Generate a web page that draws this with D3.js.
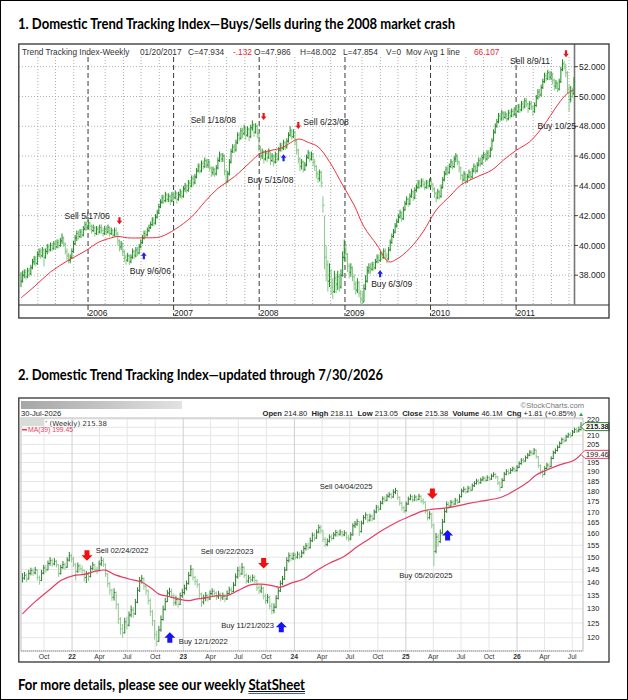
<!DOCTYPE html>
<html>
<head>
<meta charset="utf-8">
<script src="https://cdn.jsdelivr.net/npm/d3@7"></script>
<style>
  body { margin: 0; background: #fff; }
  svg { display: block; }
</style>
</head>
<body>
<div id="chart"></div>
<script>
// ---------- chart 1: 2005-2011 weekly index ----------
const topStartDate = "2005-03-21";
const topClose = [37.6,38.0,38.2,37.9,38.3,38.1,38.5,38.9,39.1,38.8,
39.4,39.6,39.3,39.7,39.2,39.6,39.9,39.7,40.0,39.8,
40.1,39.9,40.2,40.0,40.3,40.5,40.1,39.6,39.3,39.0,
39.2,39.6,40.1,40.5,40.8,40.6,40.9,40.7,41.1,41.4,
41.2,41.5,41.3,41.0,41.2,40.8,41.1,40.9,41.2,41.0,
40.8,41.1,40.9,41.2,40.8,41.0,40.7,41.0,40.8,40.3,
39.9,40.1,39.6,39.2,39.0,39.3,38.9,39.2,39.6,39.3,
39.7,39.5,39.9,40.2,40.5,40.8,40.7,41.0,41.2,41.4,
41.7,41.5,41.9,42.2,42.6,42.9,43.2,43.0,43.4,43.1,
43.3,43.0,43.4,43.2,43.5,43.1,43.4,43.6,43.3,43.8,
44.0,43.7,44.2,44.0,44.5,44.2,44.6,45.0,45.3,45.0,
45.5,45.3,45.7,45.4,45.6,45.2,44.9,45.1,44.8,45.2,
45.7,46.1,45.8,46.0,45.0,44.3,44.8,45.6,46.3,46.6,
46.4,46.9,47.4,47.2,47.7,47.5,47.9,47.4,47.8,47.3,
47.9,48.1,47.6,48.0,47.5,46.6,46.0,46.3,45.8,46.2,
45.9,46.3,45.7,46.0,45.6,46.1,45.8,46.4,46.7,46.5,
46.9,46.6,47.0,47.4,47.7,47.3,47.6,47.0,46.4,45.8,
45.3,45.6,45.1,45.4,45.9,46.2,45.8,46.1,45.6,45.3,
44.8,44.5,44.9,44.2,42.7,39.2,38.7,37.6,38.3,37.2,
36.9,37.8,37.4,37.9,37.2,38.0,39.2,39.8,39.4,38.6,
38.2,38.5,37.9,37.4,37.0,37.5,36.8,36.4,36.2,37.1,
37.6,38.3,38.5,38.4,38.7,38.5,38.9,39.2,39.0,39.4,
39.2,39.6,39.3,39.1,39.7,40.2,40.6,40.9,41.3,41.6,
41.9,42.2,41.8,42.4,42.8,43.1,42.8,43.3,43.6,43.2,
43.7,43.9,44.2,44.0,44.3,44.1,43.9,44.2,44.0,44.3,
44.1,43.8,43.5,43.2,43.6,43.3,43.9,44.4,44.8,45.1,
44.9,45.3,45.6,45.3,45.8,46.0,45.6,45.2,44.7,44.4,
44.8,44.3,44.6,44.9,44.6,45.0,45.3,45.0,45.4,45.7,
45.5,45.9,46.1,45.8,46.2,46.0,46.4,47.0,47.6,48.0,
48.3,48.7,48.5,48.9,48.6,48.8,48.5,48.9,48.7,49.0,
48.8,49.1,49.0,49.3,49.1,49.5,49.3,49.7,49.5,49.2,
49.5,49.3,49.0,49.4,49.9,50.3,50.1,50.6,51.0,51.4,
51.2,51.6,51.3,51.5,51.1,50.7,50.9,50.5,51.0,51.8,
52.2,52.0,51.6,50.5,49.8,50.4,50.2,51.0];
const topHigh = [38.2,38.3,38.4,38.4,38.5,38.5,38.7,39.1,39.3,39.3,
39.6,39.8,39.8,39.9,39.8,39.8,40.1,40.1,40.2,40.2,
40.3,40.3,40.4,40.4,40.5,40.8,40.6,40.2,39.8,39.5,
39.4,39.8,40.3,40.7,41.0,41.0,41.1,41.1,41.3,41.6,
41.6,41.7,41.6,41.4,41.4,41.3,41.3,41.3,41.4,41.4,
41.2,41.3,41.3,41.4,41.3,41.2,41.1,41.2,41.2,40.9,
40.4,40.3,40.2,39.7,39.4,39.5,39.4,39.4,39.8,39.7,
39.9,39.9,40.1,40.4,40.7,41.0,41.0,41.2,41.4,41.6,
41.9,41.9,42.1,42.4,42.8,43.1,43.4,43.4,43.6,43.5,
43.5,43.4,43.6,43.6,43.7,43.6,43.6,43.8,43.7,44.0,
44.2,44.1,44.4,44.4,44.7,44.7,44.8,45.2,45.5,45.5,
45.7,45.7,45.9,45.8,45.8,45.7,45.3,45.3,45.2,45.4,
45.9,46.3,46.2,46.2,46.1,45.1,45.0,45.8,46.5,46.8,
46.8,47.1,47.6,47.6,47.9,47.9,48.1,48.0,48.0,47.9,
48.1,48.4,48.2,48.2,48.1,47.6,46.7,46.5,46.4,46.4,
46.3,46.5,46.3,46.2,46.1,46.3,46.2,46.6,46.9,46.9,
47.1,47.0,47.2,47.6,48.0,47.8,47.8,47.7,47.1,46.5,
45.9,45.8,45.7,45.6,46.1,46.4,46.3,46.3,46.2,45.8,
45.4,45.0,45.1,45.0,43.3,42.0,40.0,39.0,38.8,38.4,
37.8,38.3,38.1,38.3,38.1,38.4,39.6,40.4,40.1,39.5,
38.8,38.8,38.6,38.1,37.6,37.8,37.6,37.0,36.9,37.4,
38.0,38.6,38.8,38.8,38.9,38.9,39.1,39.4,39.4,39.6,
39.6,39.8,39.8,39.5,39.9,40.4,40.8,41.1,41.5,41.8,
42.1,42.4,42.3,42.6,43.0,43.3,43.2,43.5,43.8,43.7,
43.9,44.1,44.4,44.4,44.5,44.5,44.3,44.4,44.4,44.5,
44.5,44.2,43.9,43.6,43.8,43.7,44.1,44.6,45.0,45.3,
45.3,45.5,45.8,45.7,46.0,46.2,46.1,45.7,45.3,44.8,
45.0,44.9,44.8,45.1,45.0,45.2,45.5,45.4,45.6,45.9,
45.9,46.1,46.3,46.2,46.4,46.4,46.6,47.2,47.8,48.2,
48.5,48.9,48.9,49.1,49.0,49.0,48.9,49.1,49.1,49.2,
49.2,49.3,49.3,49.5,49.5,49.7,49.7,49.9,49.9,49.6,
49.7,49.7,49.4,49.6,50.1,50.5,50.5,50.8,51.2,51.6,
51.6,51.8,51.7,51.7,51.6,51.2,51.1,51.0,51.2,52.0,
52.5,52.4,52.2,51.7,50.8,50.7,50.6,51.3];
const topLow = [37.2,37.5,37.8,37.7,37.8,37.9,38.0,38.4,38.7,38.6,
38.7,39.2,39.1,39.2,38.6,39.1,39.4,39.5,39.6,39.6,
39.7,39.7,39.8,39.8,39.9,40.1,39.9,39.4,39.0,38.8,
38.8,39.1,39.5,40.0,40.3,40.4,40.5,40.5,40.6,41.0,
41.0,41.1,41.0,40.8,40.9,40.6,40.7,40.7,40.8,40.8,
40.6,40.7,40.7,40.8,40.6,40.7,40.5,40.6,40.6,40.0,
39.6,39.7,39.3,38.9,38.7,38.9,38.7,38.8,39.1,39.1,
39.2,39.3,39.4,39.8,40.1,40.4,40.5,40.6,40.9,41.1,
41.3,41.3,41.4,41.8,42.1,42.5,42.8,42.8,42.9,42.9,
42.9,42.7,42.9,43.0,43.1,42.8,43.0,43.2,43.1,43.2,
43.6,43.5,43.6,43.8,43.9,44.0,44.1,44.5,44.9,44.8,
44.9,45.1,45.2,45.2,45.2,45.0,44.6,44.7,44.6,44.7,
45.1,45.6,45.6,45.6,44.7,44.0,44.2,44.7,45.5,46.2,
46.2,46.3,46.8,47.0,47.1,47.2,47.4,47.1,47.3,47.0,
47.2,47.7,47.3,47.5,47.2,46.3,45.7,45.8,45.5,45.7,
45.6,45.8,45.4,45.6,45.3,45.5,45.6,45.7,46.3,46.3,
46.4,46.4,46.5,46.9,47.3,47.1,47.2,46.7,46.1,45.5,
45.0,45.1,44.9,45.0,45.3,45.8,45.6,45.7,45.3,45.0,
44.5,44.2,44.3,43.9,42.2,38.4,37.6,36.9,37.2,36.7,
36.4,36.8,36.8,37.0,36.9,37.1,37.9,39.0,38.9,38.2,
37.8,37.9,37.6,37.0,36.7,36.8,36.5,36.1,36.0,36.2,
37.0,37.5,38.1,38.1,38.3,38.3,38.4,38.8,38.8,38.9,
39.0,39.1,39.1,38.8,39.0,39.6,40.1,40.5,40.8,41.2,
41.5,41.8,41.6,41.7,42.3,42.7,42.6,42.7,43.2,43.0,
43.1,43.6,43.8,43.8,43.9,43.9,43.7,43.8,43.8,43.9,
43.9,43.6,43.2,42.9,43.1,43.1,43.2,43.8,44.3,44.7,
44.7,44.8,45.2,45.1,45.2,45.6,45.4,44.9,44.4,44.1,
44.3,44.1,44.2,44.5,44.4,44.5,44.9,44.8,44.9,45.3,
45.3,45.4,45.8,45.6,45.7,45.8,45.9,46.4,47.0,47.5,
47.9,48.2,48.3,48.4,48.4,48.5,48.3,48.4,48.5,48.6,
48.6,48.7,48.8,48.9,48.9,49.0,49.1,49.2,49.3,48.9,
49.1,49.1,48.7,48.9,49.3,49.8,49.9,50.0,50.5,50.9,
51.0,51.1,51.1,51.1,50.8,50.4,50.5,50.3,50.4,50.9,
51.7,51.8,51.3,50.2,49.0,49.6,49.9,50.1];
const topMaWeek = [0,8,18,29,39,47,55,59,65,75,85,94,104,112,120,130,140,146,159,169,175,181,188,196,203,209,217,224,229,237,245,253,262,268,278,287,294,302,310,318,327,333,337];
const topMaValue = [36.48,37.22,38.22,39.01,39.61,40.2,40.51,40.6,40.51,40.51,40.58,41.09,41.92,42.93,43.83,44.61,45.62,46.18,46.56,47.14,46.92,46.62,45.62,44.05,42.71,41.25,40.02,38.9,39.08,39.8,40.91,42.37,43.38,44.05,44.61,45.06,45.73,46.4,46.96,47.97,49.43,50.21,50.43];
const topYears = [2006, 2007, 2008, 2009, 2010, 2011];
const topYTicks = [38, 40, 42, 44, 46, 48, 50, 52];
const topMinorDays = ["03-15", "06-01", "08-15", "11-01"];
const topSignalKind = ["sell", "buy", "sell", "buy", "sell", "buy", "sell", "none"];
const topSignalDate = ["2006-05-15", "2006-08-27", "2008-01-20", "2008-04-14", "2008-06-16", "2009-05-31", "2011-08-02", "2011-04-02"];
const topSignalValue = [41.43, 39.55, 48.42, 46.13, 47.81, 38.34, 52.63, 47.81];
const topSignalText = ["Sell 5/17/06", "Buy 9/6/06", "Sell 1/18/08", "Buy 5/15/08", "Sell 6/23/08", "Buy 6/3/09", "Sell 8/9/11", "Buy 10/25"];
const topHeader = [
  ["Trend Tracking Index-Weekly", "#333"], ["01/20/2017", "#333"], ["C=47.934", "#333"], ["-.132", "#e8262e"],
  ["O=47.986", "#333"], ["H=48.002", "#333"], ["L=47.854", "#333"], ["V=0", "#333"],
  ["Mov Avg 1 line", "#333"], ["66.107", "#e8262e"]
];

// ---------- chart 2: 2021-2026 weekly index ----------
const botStartDate = "2021-07-22";
const botClose = [141.5,142.6,141.2,143.4,144.5,143.6,144.8,141.8,140.6,143.5,
145.6,144.8,147.4,148.6,147.2,148.3,146.8,143.4,145.8,147.0,
145.9,148.8,150.6,149.3,147.0,144.2,146.4,145.2,144.6,141.8,
143.0,142.2,145.4,146.8,145.0,144.6,147.2,148.6,147.0,143.2,
139.4,136.8,134.2,136.0,131.6,126.4,123.0,121.6,125.4,124.2,
127.8,129.6,128.2,132.4,136.8,140.6,141.4,138.4,136.6,133.0,
129.0,125.8,121.0,118.8,122.6,126.2,129.8,132.6,135.8,136.4,
134.8,132.2,133.4,131.6,134.8,136.0,137.6,139.4,142.6,145.0,
141.8,140.2,139.0,135.4,132.4,133.8,134.8,133.6,135.6,136.4,
135.8,134.4,135.4,134.0,134.8,133.6,135.6,137.0,136.4,138.8,
142.0,144.6,143.2,145.8,142.6,140.4,141.6,140.8,141.8,140.6,
137.8,136.6,137.6,134.6,133.0,134.2,131.0,129.4,130.6,133.8,
136.6,139.4,141.2,144.8,148.6,150.6,149.4,150.8,150.0,151.2,
150.2,151.8,153.6,154.8,154.0,157.0,159.4,158.2,160.8,162.8,
161.4,157.6,155.4,156.8,158.6,158.0,159.6,160.6,159.8,160.8,
159.6,160.4,158.4,157.8,159.6,163.6,164.4,165.6,161.0,164.8,
167.4,168.6,166.2,168.0,166.8,170.0,172.2,171.4,174.2,176.4,
175.6,177.6,178.4,177.2,179.6,180.4,177.0,174.2,172.0,170.6,
173.8,176.2,177.4,175.8,177.2,176.0,177.6,175.4,174.6,170.4,
167.4,169.0,164.0,152.4,158.6,156.6,160.4,165.4,170.2,173.6,
172.8,174.6,173.8,175.6,174.6,177.4,180.2,181.0,179.8,181.6,
180.6,182.8,184.0,185.2,184.4,185.8,186.6,185.6,187.0,186.2,
187.8,188.6,187.4,184.2,182.0,185.6,188.8,190.2,189.4,190.8,
191.6,190.6,192.4,194.4,196.2,195.8,197.6,199.0,200.6,199.8,
201.8,198.2,193.4,190.2,188.6,191.8,193.6,192.8,197.2,200.4,
201.6,203.4,205.6,207.8,207.0,209.4,210.6,210.0,212.2,213.6,
212.8,213.57,215.38];
const botHigh = [143.5,144.0,143.4,144.8,145.7,145.4,146.0,145.2,142.6,144.8,
146.8,146.9,148.6,150.0,149.4,149.6,148.9,147.2,146.9,148.4,
147.8,150.0,152.2,151.4,150.2,147.6,147.8,147.2,146.6,145.0,
144.4,144.0,146.6,148.0,147.2,146.2,148.6,150.2,149.6,147.4,
143.6,140.0,137.4,137.6,136.4,132.0,127.0,124.6,126.8,127.2,
129.0,131.2,130.6,133.6,138.0,142.0,142.8,141.8,139.4,137.2,
133.8,129.6,126.0,122.4,124.0,127.6,131.2,134.0,137.0,137.8,
137.4,135.6,134.8,134.2,136.0,137.4,139.0,140.6,144.0,146.8,
145.6,142.4,141.2,139.6,136.0,135.2,136.2,135.4,136.8,137.6,
137.2,136.4,136.6,136.0,136.0,135.4,136.8,138.2,138.0,140.0,
143.4,146.0,146.4,147.6,146.2,143.4,142.8,142.6,143.0,142.6,
141.0,138.8,138.8,138.2,135.6,135.4,134.8,132.2,132.0,135.0,
137.8,140.6,142.4,146.0,150.0,152.0,151.8,152.0,151.8,152.4,
152.0,153.0,154.8,156.0,156.2,158.4,160.6,160.4,162.0,164.2,
164.0,161.8,158.6,158.0,159.8,159.8,160.8,161.8,161.6,162.0,
161.4,161.6,161.0,159.6,160.8,164.8,165.8,166.8,165.8,166.0,
168.6,169.8,169.0,169.2,168.8,171.2,173.4,173.2,175.4,177.6,
177.6,178.8,179.6,179.2,181.0,181.8,180.8,177.6,174.8,173.0,
175.0,177.4,178.6,178.0,178.4,178.0,178.8,178.0,176.6,175.0,
171.2,170.4,169.6,164.6,160.4,160.0,162.0,166.8,171.6,175.0,
174.8,175.8,175.6,176.8,176.4,178.6,181.4,182.4,181.8,182.8,
182.6,184.0,185.2,186.4,186.2,187.0,187.8,187.6,188.2,187.8,
189.0,189.8,189.4,188.0,185.0,186.8,190.0,191.4,191.2,192.0,
192.8,192.4,193.6,195.6,197.4,197.6,198.8,200.2,201.8,201.8,
203.0,202.2,198.6,194.0,191.2,193.0,194.8,194.6,198.4,201.6,
202.8,204.6,206.8,209.0,209.0,210.6,211.8,212.0,213.4,214.8,
214.8,215.4,218.11];
const botLow = [139.8,140.9,140.0,141.0,142.6,142.4,143.0,140.6,139.0,140.4,
143.0,143.6,144.6,146.5,146.0,146.6,145.8,142.0,142.9,145.2,
144.8,145.6,148.2,147.8,146.0,140.6,143.6,143.8,143.0,140.2,
139.6,140.4,141.8,144.6,143.8,143.2,144.2,146.4,146.0,142.0,
138.0,135.2,132.8,133.0,129.8,124.6,121.0,120.0,121.4,122.8,
123.8,127.0,126.8,127.8,132.0,136.2,139.4,137.0,135.2,131.6,
127.4,124.0,119.4,117.2,118.6,122.0,125.8,129.4,132.4,134.6,
133.8,131.0,131.2,130.4,131.4,134.0,135.2,136.8,139.0,142.2,
140.6,138.8,137.8,134.0,130.6,131.6,132.8,132.6,133.2,134.8,
134.6,133.2,133.6,132.8,133.2,132.4,133.2,135.0,135.4,136.0,
138.4,141.4,142.0,142.8,141.6,139.4,139.6,139.8,140.2,139.6,
136.6,135.4,135.8,133.4,131.8,132.0,129.8,128.0,128.4,130.2,
133.4,136.2,138.8,140.8,144.4,147.8,148.4,148.8,149.0,149.4,
149.2,149.8,151.2,152.8,153.0,153.6,156.4,157.0,157.8,160.2,
160.2,156.4,154.2,154.6,156.2,157.0,157.6,158.8,158.8,159.2,
158.6,159.0,157.4,156.6,157.2,159.2,162.6,163.6,159.0,160.6,
164.2,166.4,165.0,165.6,165.6,166.4,169.4,170.2,171.0,173.6,
174.6,175.2,176.8,176.2,176.8,178.6,175.8,173.0,170.6,169.4,
170.2,173.4,175.6,174.6,175.2,175.0,175.6,174.2,173.6,169.2,
166.0,166.6,162.4,146.3,151.6,154.4,156.0,159.8,165.0,169.6,
171.6,172.4,172.6,173.4,173.6,174.4,177.0,179.4,178.8,179.4,
179.6,180.4,182.2,183.4,183.4,183.8,185.2,184.6,185.2,185.2,
185.8,187.2,186.4,183.0,180.2,181.8,185.2,188.2,188.4,189.0,
190.2,189.8,190.2,192.0,193.8,194.8,195.4,197.0,198.4,198.8,
199.4,197.0,192.0,188.6,187.0,188.4,191.2,191.6,192.6,196.8,
199.6,201.0,203.0,205.2,206.0,206.8,208.8,208.8,209.8,211.6,
211.6,212.0,213.05];
const botMaWeek = [0,6,14,18,24,29,35,39,43,50,56,61,64,68,73,78,82,87,92,96,101,107,112,117,121,126,132,136,140,144,151,157,163,169,176,182,188,193,198,204,210,216,223,227,232,237,241,246,252,259,262];
const botMaValue = [128.2,132.6,137.9,140.6,142.5,143.0,144.4,144.7,143.0,141.2,139.9,137.3,135.4,134.6,133.6,133.0,133.6,134.2,134.8,134.8,136.7,138.9,139.2,138.6,138.0,139.6,141.2,143.5,145.6,147.5,150.4,154.4,158.0,161.7,165.5,168.1,170.5,171.4,171.8,172.9,174.2,175.3,176.6,178.2,181.2,184.6,188.4,191.0,193.7,196.4,199.46];
const botYTicks = d3.range(120, 221, 5);
const botMonths = ["Jan", "Feb", "Mar", "Apr", "May", "Jun", "Jul", "Aug", "Sep", "Oct", "Nov", "Dec"];
const botSignalKind = ["sell", "buy", "sell", "buy", "sell", "buy"];
const botSignalDate = ["2022-02-19", "2022-11-18", "2023-09-22", "2023-11-19", "2025-03-29", "2025-05-18"];
const botSignalValue = [148.5, 121.8, 145.4, 125.4, 176.2, 161.7];
const botSignalText = ["Sell 02/24/2022", "Buy 12/1/2022", "Sell 09/22/2023", "Buy 11/21/2023", "Sell 04/04/2025", "Buy 05/20/2025"];
const botHeader = [["Open ", 1], ["214.80  ", 0], ["High ", 1], ["218.11  ", 0], ["Low ", 1], ["213.05  ", 0],
  ["Close ", 1], ["215.38  ", 0], ["Volume ", 1], ["46.1M  ", 0], ["Chg ", 1], ["+1.81 (+0.85%) ", 0]];
const lastClose = 215.38, lastMa = 199.46;

// layout (not data)
const topHeaderX = [22, 140, 188, 233, 254, 300, 343, 386, 406, 474];
const topLabelOffset = [[-55, -5], [-14, 22], [-73, 2.5], [-36, 29], [5, -4], [-9, 17], [-56, 6.7], [0, 0]];
const botLabelOffset = [[8.7, -8.2], [9, 11.7], [-63, -14.3], [-60, 6.3], [-112.7, -10.5], [-48.4, 47.5]];

const W = 628, H = 700;
const DAY = 864e5;
const parse = d3.utcParse("%Y-%m-%d");
const FONT = "'Liberation Sans', Arial, sans-serif";
const HEAD = "Lato, 'Open Sans', sans-serif";

const svg = d3.select("#chart").append("svg")
  .attr("width", W).attr("height", H)
  .style("font-family", FONT);

svg.append("rect").attr("x", 0.5).attr("y", 0.5).attr("width", W - 1).attr("height", H - 1)
  .attr("fill", "#fff").attr("stroke", "#000").attr("stroke-width", 1);

// headings
svg.append("text").attr("x", 18).attr("y", 29)
  .attr("font-family", HEAD).attr("font-weight", 700).attr("font-size", 14.5)
  .attr("textLength", 437).attr("lengthAdjust", "spacingAndGlyphs")
  .text("1. Domestic Trend Tracking Index\u2014Buys/Sells during the 2008 market crash");
svg.append("text").attr("x", 18).attr("y", 380)
  .attr("font-family", HEAD).attr("font-weight", 700).attr("font-size", 14.5)
  .attr("textLength", 365).attr("lengthAdjust", "spacingAndGlyphs")
  .text("2. Domestic Trend Tracking Index\u2014updated through 7/30/2026");

function arrow(kind, big) {
  const L = big ? 10.5 : 7, hw = big ? 5.5 : 2.8, hl = big ? 5.5 : 3.5, sw = big ? 2.5 : 1.1;
  const s = kind === "sell" ? -1 : 1;
  const pts = [[0, 0], [-hw, s * hl], [-sw, s * hl], [-sw, s * L], [sw, s * L], [sw, s * hl], [hw, s * hl]];
  return "M" + pts.map(p => p.join(",")).join("L") + "Z";
}

function drawBars(g, dates, hi, lo, cl, x, y, up, down, tick) {
  const idx = d3.range(dates.length);
  const col = i => (i === 0 || cl[i] >= cl[i - 1]) ? up : down;
  const bars = g.selectAll("g.bar").data(idx).join("g").attr("class", "bar")
    .attr("stroke", col).attr("stroke-width", 1);
  bars.append("line")
    .attr("x1", i => x(dates[i])).attr("x2", i => x(dates[i]))
    .attr("y1", i => y(hi[i])).attr("y2", i => y(lo[i]));
  bars.filter(i => i > 0).append("line")
    .attr("x1", i => x(dates[i]) - tick).attr("x2", i => x(dates[i]))
    .attr("y1", i => y(cl[i - 1])).attr("y2", i => y(cl[i - 1]));
  bars.append("line")
    .attr("x1", i => x(dates[i])).attr("x2", i => x(dates[i]) + tick)
    .attr("y1", i => y(cl[i])).attr("y2", i => y(cl[i]));
}

// ================= chart 1 =================
{
  const g = svg.append("g");
  const start = parse(topStartDate);
  const dates = topClose.map((_, i) => new Date(+start + i * 7 * DAY));
  const x = d3.scaleUtc().domain([dates[0], dates[dates.length - 1]]).range([21, 574]);
  const y = d3.scaleLinear().domain([36, 52]).range([305, 66.7]);

  // horizontal dotted grid
  g.selectAll("line.hg").data(topYTicks).join("line")
    .attr("x1", 19).attr("x2", 574).attr("y1", d => y(d)).attr("y2", d => y(d))
    .attr("stroke", "#9a9a9a").attr("stroke-width", 0.8).attr("stroke-dasharray", "1,2");
  // minor vertical dotted grid
  const minor = [];
  d3.range(2005, 2012).forEach(yr => topMinorDays.forEach(md => {
    const d = parse(yr + "-" + md);
    if (x(d) > 22 && x(d) < 573) minor.push(d);
  }));
  g.selectAll("line.vg").data(minor).join("line")
    .attr("x1", d => x(d)).attr("x2", d => x(d)).attr("y1", 57).attr("y2", 305)
    .attr("stroke", "#9a9a9a").attr("stroke-width", 0.8).attr("stroke-dasharray", "1,2");
  // year dashed lines
  const yearDates = topYears.map(yr => new Date(Date.UTC(yr, 0, 1)));
  g.selectAll("line.yr").data(yearDates).join("line")
    .attr("x1", d => x(d)).attr("x2", d => x(d)).attr("y1", 57).attr("y2", 316)
    .attr("stroke", "#222").attr("stroke-width", 0.9).attr("stroke-dasharray", "5,3");
  g.selectAll("text.yr").data(topYears).join("text")
    .attr("x", (d, i) => x(yearDates[i]) + 0.5).attr("y", 315.5)
    .attr("font-size", 8.5).attr("fill", "#222").text(d => d);

  // frame and axes
  g.append("line").attr("x1", 19).attr("x2", 609).attr("y1", 305).attr("y2", 305)
    .attr("stroke", "#333").attr("stroke-width", 1.1);
  g.append("line").attr("x1", 574.5).attr("x2", 574.5).attr("y1", 44).attr("y2", 305)
    .attr("stroke", "#777").attr("stroke-width", 1.6);
  g.selectAll("line.yt").data(topYTicks).join("line")
    .attr("x1", 574).attr("x2", 578).attr("y1", d => y(d)).attr("y2", d => y(d))
    .attr("stroke", "#333").attr("stroke-width", 0.9);
  g.selectAll("text.yl").data(topYTicks).join("text")
    .attr("x", 579).attr("y", d => y(d) + 3.2)
    .attr("font-size", 8.6).attr("fill", "#222").text(d3.format(".3f"));
  g.append("rect").attr("x", 18.8).attr("y", 44).attr("width", 590.2).attr("height", 274)
    .attr("fill", "none").attr("stroke", "#333").attr("stroke-width", 1.3);

  // header
  g.selectAll("text.hd").data(topHeader).join("text")
    .attr("x", (d, i) => topHeaderX[i]).attr("y", 55)
    .attr("font-size", 8.3).attr("fill", d => d[1]).text(d => d[0]);

  // bars
  drawBars(g.append("g"), dates, topHigh, topLow, topClose, x, y, "#1f8c22", "#86c786", 1.1);

  // moving average
  const maPts = topMaWeek.map((w, i) => [new Date(+start + w * 7 * DAY), topMaValue[i]]);
  g.append("path").datum(maPts)
    .attr("d", d3.line().x(d => x(d[0])).y(d => y(d[1])).curve(d3.curveCatmullRom))
    .attr("fill", "none").attr("stroke", "#f0303c").attr("stroke-width", 1);

  // signals
  topSignalKind.forEach((k, i) => {
    const px = x(parse(topSignalDate[i])), py = y(topSignalValue[i]);
    if (k !== "none") {
      g.append("path").attr("transform", `translate(${px},${py})`).attr("d", arrow(k, false))
        .attr("fill", k === "sell" ? "#e8141c" : "#2020f0");
    }
    g.append("text").attr("x", px + topLabelOffset[i][0]).attr("y", py + topLabelOffset[i][1])
      .attr("font-size", 8.6).attr("fill", "#222").text(topSignalText[i]);
  });
}

// ================= chart 2 =================
{
  const g = svg.append("g");
  const start = parse(botStartDate);
  const dates = botClose.map((_, i) => new Date(+start + i * 7 * DAY));
  const x = d3.scaleUtc().domain([dates[0], dates[dates.length - 1]]).range([22.4, 581]);
  const y = d3.scaleLog().domain([115.65, 220.6]).range([651, 418]);
  const L = 21, R = 583, T = 418, B = 651;

  // gradient header bar
  const grad = svg.append("defs").append("linearGradient").attr("id", "gbar");
  grad.append("stop").attr("offset", "0%").attr("stop-color", "#a6a6a6");
  grad.append("stop").attr("offset", "100%").attr("stop-color", "#e2e2e2");
  g.append("rect").attr("x", 21).attr("y", 401).attr("width", 161).attr("height", 8).attr("fill", "url(#gbar)");
  g.append("text").attr("x", 21).attr("y", 416).attr("font-size", 7.6).attr("fill", "#222").text("30-Jul-2026");
  g.append("text").attr("x", 584).attr("y", 408).attr("text-anchor", "end")
    .attr("font-size", 7.6).attr("fill", "#777").text("\u00a9StockCharts.com");
  const hd = g.append("text").attr("x", 584).attr("y", 416).attr("text-anchor", "end")
    .attr("font-size", 7.6).attr("fill", "#222");
  botHeader.forEach(p => hd.append("tspan").attr("font-weight", p[1] ? 700 : 400)
    .attr("xml:space", "preserve").text(p[0]));
  hd.append("tspan").attr("fill", "#2a9a2a").attr("font-size", 6).text("\u25b2");

  // grid
  const quarters = d3.utcMonth.range(new Date(Date.UTC(2021, 9, 1)), dates[dates.length - 1], 3);
  g.selectAll("line.hg").data(botYTicks).join("line")
    .attr("x1", L).attr("x2", R).attr("y1", d => y(d)).attr("y2", d => y(d))
    .attr("stroke", "#e6e6e6").attr("stroke-width", 1);
  g.selectAll("line.vg").data(quarters).join("line")
    .attr("x1", d => x(d)).attr("x2", d => x(d)).attr("y1", T).attr("y2", B)
    .attr("stroke", d => d.getUTCMonth() === 0 ? "#cfcfcf" : "#e6e6e6").attr("stroke-width", 1);
  g.append("rect").attr("x", L).attr("y", T).attr("width", R - L).attr("height", B - T)
    .attr("fill", "none").attr("stroke", "#bdbdbd").attr("stroke-width", 1);
  g.append("line").attr("x1", L).attr("x2", R).attr("y1", B).attr("y2", B)
    .attr("stroke", "#999").attr("stroke-dasharray", "1,1");

  // axes labels (the two price flags cover the ticks they sit on)
  const flagYs = [y(lastClose), y(lastMa)];
  const shownTicks = botYTicks.filter(v => flagYs.every(fy => Math.abs(y(v) - fy) > 5));
  g.selectAll("text.xl").data(quarters).join("text")
    .attr("x", d => x(d)).attr("y", 658.5).attr("text-anchor", "middle")
    .attr("font-size", 6.8).attr("fill", "#333")
    .attr("font-weight", d => d.getUTCMonth() === 0 ? 700 : 400)
    .text(d => d.getUTCMonth() === 0 ? String(d.getUTCFullYear()).slice(2) : botMonths[d.getUTCMonth()]);
  g.selectAll("text.yl").data(shownTicks).join("text")
    .attr("x", 587).attr("y", d => y(d)).attr("dy", "0.35em")
    .attr("font-size", 7.4).attr("fill", "#222").text(d => d);

  // bars
  drawBars(g.append("g"), dates, botHigh, botLow, botClose, x, y, "#2f7f2f", "#93c993", 1.2);

  // moving average
  const maPts = botMaWeek.map((w, i) => [new Date(+start + w * 7 * DAY), botMaValue[i]]);
  g.append("path").datum(maPts)
    .attr("d", d3.line().x(d => x(d[0])).y(d => y(d[1])).curve(d3.curveCatmullRom))
    .attr("fill", "none").attr("stroke", "#e63c62").attr("stroke-width", 1.2);

  // legend
  g.append("rect").attr("x", 21).attr("y", 419).attr("width", 23).attr("height", 7).attr("fill", "#d9ddd9");
  g.append("text").attr("x", 45).attr("y", 425.5).attr("font-family", "'DejaVu Sans', sans-serif")
    .attr("font-size", 7).attr("fill", "#333").text("\u2019 (Weekly) 215.38");
  g.append("line").attr("x1", 22).attr("x2", 27).attr("y1", 429.7).attr("y2", 429.7)
    .attr("stroke", "#e63c62").attr("stroke-width", 1.6);
  g.append("text").attr("x", 28).attr("y", 432.3).attr("font-size", 6.8).attr("fill", "#e63c62")
    .text("MA(39) 199.45");

  // signals
  botSignalKind.forEach((k, i) => {
    const px = x(parse(botSignalDate[i])), py = y(botSignalValue[i]);
    g.append("path").attr("transform", `translate(${px},${py})`).attr("d", arrow(k, true))
      .attr("fill", k === "sell" ? "#f01010" : "#1414f5");
    g.append("text").attr("x", px + botLabelOffset[i][0]).attr("y", py + botLabelOffset[i][1])
      .attr("font-size", 7.6).attr("fill", "#222").text(botSignalText[i]);
  });

  // value flags on right axis
  [[lastClose, "#2f7f2f", 700], [lastMa, "#e63c62", 400]].forEach(([v, c, fw]) => {
    const yy = y(v);
    g.append("path")
      .attr("d", `M581,${yy}L585,${yy - 4}L609,${yy - 4}L609,${yy + 4}L585,${yy + 4}Z`)
      .attr("fill", "#fff").attr("stroke", c).attr("stroke-width", 1);
    g.append("text").attr("x", 586).attr("y", yy).attr("dy", "0.35em")
      .attr("font-size", 7.4).attr("font-weight", fw).attr("fill", "#222").text(d3.format(".2f")(v));
  });

  g.append("rect").attr("x", 18.8).attr("y", 398).attr("width", 590.2).attr("height", 264)
    .attr("fill", "none").attr("stroke", "#333").attr("stroke-width", 1.3);
}

// footer
{
  const ft = svg.append("text").attr("x", 18).attr("y", 690)
    .attr("font-family", HEAD).attr("font-weight", 700).attr("font-size", 14.5).attr("fill", "#000")
    .attr("textLength", 287).attr("lengthAdjust", "spacingAndGlyphs")
    .text("For more details, please see our weekly StatSheet");
  const node = ft.node();
  const n = node.getNumberOfChars();
  const s = node.getStartPositionOfChar(n - 9).x, e = node.getEndPositionOfChar(n - 1).x;
  svg.append("line").attr("x1", s).attr("x2", e).attr("y1", 691.5).attr("y2", 691.5)
    .attr("stroke", "#111").attr("stroke-width", 1);
  svg.append("line").attr("x1", s).attr("x2", e).attr("y1", 693.5).attr("y2", 693.5)
    .attr("stroke", "#3b5fd0").attr("stroke-width", 1);
}
</script>
</body>
</html>
